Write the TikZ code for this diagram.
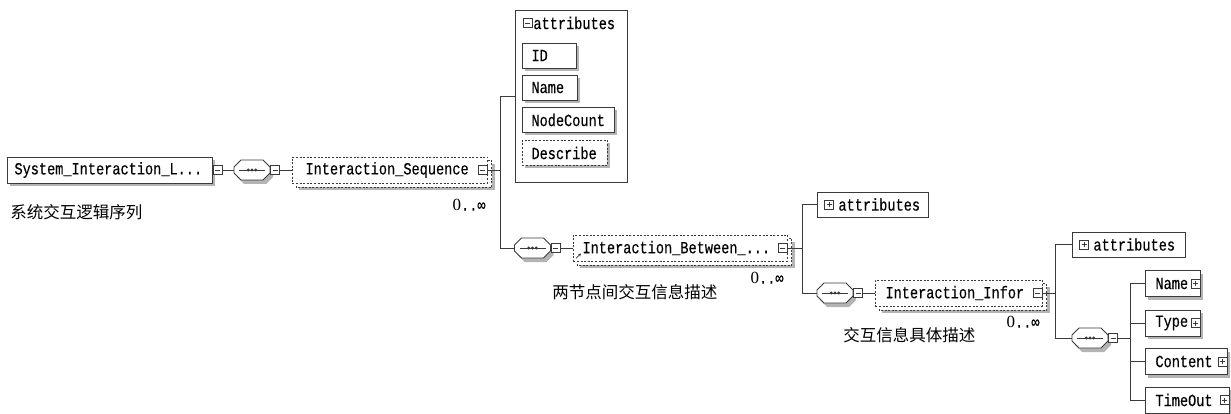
\documentclass[tikz,border=0pt]{standalone}
\usepackage{fontspec}
\setmainfont{Liberation Serif}
\setmonofont{Liberation Mono}[FakeStretch=0.8, FakeBold=0.3]
\newfontfamily\cjk{Noto Sans CJK SC}
\newfontfamily\zerofont{Liberation Serif}
\usetikzlibrary{shadows,backgrounds,arrows.meta}
\definecolor{lc}{HTML}{3A3A3A}
\definecolor{sh}{HTML}{B4B4B4}
\newcommand\mono{\ttfamily\fontsize{17}{19}\selectfont}
\newcommand\cjklab{\cjk\fontsize{16.5}{19}\selectfont}
\newcommand\occurs{{\zerofont 0}..∞}
% second (stacked) outline behind an element that may repeat
\newcommand\stackbehind[1]{%
  \begin{scope}[on background layer]
    \fill[sh] ([shift={(7,7)}]#1.north west) rectangle ([shift={(7,7)}]#1.south east);
    \draw[lc, fill=white, line width=0.9pt, dash pattern=on 2pt off 1.6pt]
      ([shift={(4,4)}]#1.north west) rectangle ([shift={(4,4)}]#1.south east);
  \end{scope}}
% outline, shadow and dotted line of a sequence compositor
\newcommand\seqshape[1]{%
  \begin{scope}[shift={(#1.center)}]
    \fill[sh] (-15,1) -- (-8,-6) -- (14,-6) -- (21,1) -- (21,7) -- (14,14)
      -- (-8,14) -- (-15,7) -- cycle;
    \draw[lc, fill=white, line width=0.9pt] (-18,-3) -- (-11,-10) -- (11,-10)
      -- (18,-3) -- (18,3) -- (11,10) -- (-11,10) -- (-18,3) -- cycle;
    \draw[lc, line width=0.9pt] (-13,0) -- (13,0);
    \fill[lc] (0,0) circle (1.6) (-3.8,0) circle (1.6) (3.8,0) circle (1.6);
  \end{scope}}
\begin{document}
\begin{tikzpicture}[x=1pt,y=-1pt,line width=0.9pt,
  wire/.style={draw=lc, line width=0.9pt},
  box/.style={draw=lc, fill=white, anchor=west, font=\mono, align=left,
    inner ysep=0pt, minimum height=26pt},
  shad/.style={drop shadow={shadow xshift=3pt, shadow yshift=-3pt, fill=sh, opacity=1}},
  sbox/.style={box, shad},
  dbord/.style={dash pattern=on 2pt off 1.6pt},
  seqc/.style={rectangle, minimum width=36pt, minimum height=20pt, inner sep=0pt},
  minus/.style={draw=lc, line width=0.7pt, fill=white, minimum size=9pt,
    inner sep=0pt, rectangle,
    path picture={\draw[lc, line width=0.7pt]
      ([xshift=2pt]path picture bounding box.west) --
      ([xshift=-2pt]path picture bounding box.east);}},
  plus/.style={draw=lc, line width=0.7pt, fill=white, minimum size=9pt,
    inner sep=0pt, rectangle,
    path picture={\draw[lc, line width=0.7pt]
      ([xshift=2pt]path picture bounding box.west) --
      ([xshift=-2pt]path picture bounding box.east)
      ([yshift=2pt]path picture bounding box.south) --
      ([yshift=-2pt]path picture bounding box.north);}},
  txt/.style={font=\mono, inner sep=0pt, anchor=west},
  lab/.style={font=\cjklab, inner sep=0pt, anchor=west},
  abox/.style={draw=lc, fill=white, inner sep=0pt}]
\useasboundingbox (0,0) rectangle (1231,414);

% ---- root element ----
\node[sbox, text width=191pt, inner xsep=7pt] (root) at (7,170) {System\_Interaction\_L...};
\node[minus, anchor=west] (rootm) at (root.east) {};
\node[lab] (rootlab) at (10,212) {系统交互逻辑序列};

% ---- first sequence ----
\node[seqc] (s1) at (252,170) {};
\seqshape{s1}
\node[minus] (s1m) at (275,170) {};

\node[box, dbord, text width=169pt, inner xsep=13pt] (ix1) at (292,170) {Interaction\_Sequence};
\stackbehind{ix1}
\node[minus] (ix1m) at ([xshift=-5.5pt]ix1.east) {};
\node[txt, anchor=east] (ix1n) at (486,205) {\occurs};

% ---- attributes of Interaction_Sequence ----
\node[abox, minimum width=112pt, minimum height=172pt, anchor=north west] (attr1) at (515,10) {};
\node[minus] (attr1m) at (527.5,23) {};
\node[txt] (attr1t) at (533,23) {attributes};
\node[sbox, text width=36pt, inner xsep=9pt, minimum height=25pt] (aid) at (522,55.5) {ID};
\node[sbox, text width=37pt, inner xsep=9pt, minimum height=25pt] (aname) at (522,87.5) {Name};
\node[sbox, text width=74pt, inner xsep=9pt, minimum height=25pt] (acount) at (522,120) {NodeCount};
\node[sbox, dbord, text width=67pt, inner xsep=9pt, minimum height=25pt] (adesc) at (522,153) {Describe};

% ---- second sequence ----
\node[seqc] (s2) at (532.5,248) {};
\seqshape{s2}
\node[minus] (s2m) at (555.5,248) {};
\node[box, dbord, text width=196pt, inner xsep=9pt] (ib) at (573,248) {Interaction\_Between\_...};
\stackbehind{ib}
\node[minus] (ibm) at ([xshift=-5.5pt]ib.east) {};
\draw[lc, line width=0.7pt, -{Stealth[length=3pt,width=3pt]}]
  ([shift={(3,-3)}]ib.south west) -- ++(5,-5);
\node[txt, anchor=east] (ibn) at (784,278) {\occurs};
\node[lab] (iblab) at (552,292) {两节点间交互信息描述};

\node[abox, minimum width=111pt, minimum height=25pt, anchor=west] (at2) at (817,204.5) {};
\node[plus] (at2p) at (829,204.5) {};
\node[txt] (at2t) at (838,204.5) {attributes};

% ---- third sequence ----
\node[seqc] (s3) at (835,293) {};
\seqshape{s3}
\node[minus] (s3m) at (858,293) {};
\node[box, dbord, text width=147pt, inner xsep=10pt] (ii) at (875,293) {Interaction\_Infor};
\stackbehind{ii}
\node[minus] (iim) at ([xshift=-5.5pt]ii.east) {};
\node[txt, anchor=east] (iin) at (1040,322) {\occurs};
\node[lab] (iilab) at (843,335) {交互信息具体描述};

\node[abox, minimum width=113pt, minimum height=25pt, anchor=west] (at3) at (1072,244.5) {};
\node[plus] (at3p) at (1084,244.5) {};
\node[txt] (at3t) at (1093,244.5) {attributes};

% ---- fourth sequence and its children ----
\node[seqc] (s4) at (1090,338) {};
\seqshape{s4}
\node[minus] (s4m) at (1113,338) {};
\node[sbox, text width=35pt, inner xsep=10pt] (cname) at (1145,283.5) {Name};
\node[sbox, text width=35pt, inner xsep=10pt] (ctype) at (1145,323) {Type};
\node[sbox, text width=62pt, inner xsep=10pt] (ccont) at (1145,361.5) {Content};
\node[sbox, text width=64pt, inner xsep=10pt] (ctime) at (1145,400) {TimeOut};
\foreach \c in {cname,ctype,ccont,ctime}
  \node[plus] (\c p) at ([xshift=-5.5pt]\c.east) {};

% ---- connectors ----
\coordinate (j1) at (500,170);
\coordinate (j2) at (802,248);
\coordinate (j3) at (1055,293);
\coordinate (j4) at (1130,338);
\draw[wire] (rootm.east) -- (s1.west);
\draw[wire] (s1m.east) -- (ix1.west);
\draw[wire] (ix1m.east) -- (j1);
\draw[wire] (j1) |- (attr1.west);
\draw[wire] (j1) |- (s2.west);
\draw[wire] (s2m.east) -- (ib.west);
\draw[wire] (ibm.east) -- (j2);
\draw[wire] (j2) |- (at2.west);
\draw[wire] (j2) |- (s3.west);
\draw[wire] (s3m.east) -- (ii.west);
\draw[wire] (iim.east) -- (j3);
\draw[wire] (j3) |- (at3.west);
\draw[wire] (j3) |- (s4.west);
\draw[wire] (s4m.east) -- (j4);
\foreach \c in {cname,ctype,ccont,ctime}
  \draw[wire] (j4) |- (\c.west);
\end{tikzpicture}
\end{document}
